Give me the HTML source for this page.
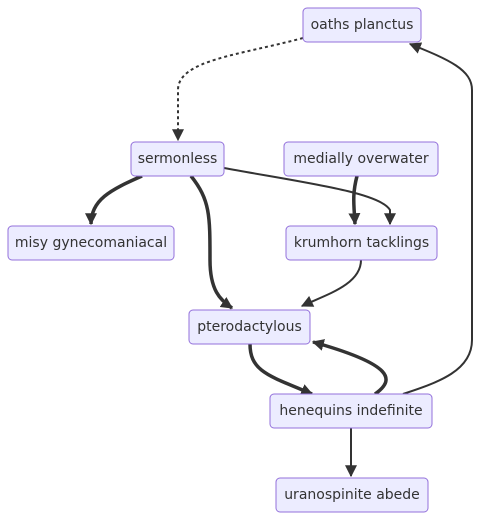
<!DOCTYPE html>
<html><head><meta charset="utf-8"><style>
html,body{margin:0;padding:0;background:#fff;}
svg{display:block;}
text{font-family:"DejaVu Sans","Liberation Sans",sans-serif;font-size:14px;fill:#333;text-anchor:middle;dominant-baseline:central;}
rect{fill:#ECECFF;stroke:#9370DB;stroke-width:1;}
.e{fill:none;stroke:#333;}
</style></head><body>
<svg width="481" height="520" viewBox="0 0 481 520">
<defs>
<marker id="b" viewBox="0 0 10 10" refX="9" refY="5" markerWidth="12" markerHeight="12" orient="auto" markerUnits="userSpaceOnUse"><path d="M0,0L10,5L0,10z" fill="#333"/></marker>
</defs>
<path class="e" stroke-width="2" stroke-dasharray="3,3" d="M303,38 C240,55 178,60 178,90 L178,140" marker-end="url(#b)"/>
<path class="e" stroke-width="3.5" d="M142,176 C110,190 91,200 91,224" marker-end="url(#b)"/>
<path class="e" stroke-width="3.5" d="M191,176 C210,200 210,215 210,260 C210,290 220,300 232,308" marker-end="url(#b)"/>
<path class="e" stroke-width="2" d="M224,168 C300,182 380,192 390,210 L390,224" marker-end="url(#b)"/>
<path class="e" stroke-width="3.5" d="M357,176 C352,195 354,205 355,224" marker-end="url(#b)"/>
<path class="e" stroke-width="2" d="M361,260 C361,285 325,295 302,306" marker-end="url(#b)"/>
<path class="e" stroke-width="3.5" d="M250,344 C250,372 270,376 312,394" marker-end="url(#b)"/>
<path class="e" stroke-width="3.5" d="M375,394 C395,380 395,365 313,342" marker-end="url(#b)"/>
<path class="e" stroke-width="2" d="M403,394 C440,382 472,370 472,340 L472,90 C472,70 450,60 410,44" marker-end="url(#b)"/>
<path class="e" stroke-width="2" d="M351,428 L351,476" marker-end="url(#b)"/>
<rect x="303" y="8" width="118" height="34" rx="4"/><text x="362" y="25">oaths planctus</text>
<rect x="131" y="142" width="93" height="34" rx="4"/><text x="177.5" y="159">sermonless</text>
<rect x="284" y="142" width="154" height="34" rx="4"/><text x="361" y="159">medially overwater</text>
<rect x="8" y="226" width="166" height="34" rx="4"/><text x="91" y="243">misy gynecomaniacal</text>
<rect x="286" y="226" width="151" height="34" rx="4"/><text x="361.5" y="243">krumhorn tacklings</text>
<rect x="189" y="310" width="121" height="34" rx="4"/><text x="249.5" y="327">pterodactylous</text>
<rect x="270" y="394" width="162" height="34" rx="4"/><text x="351" y="411">henequins indefinite</text>
<rect x="276" y="478" width="152" height="34" rx="4"/><text x="352" y="495">uranospinite abede</text>
</svg>
</body></html>
